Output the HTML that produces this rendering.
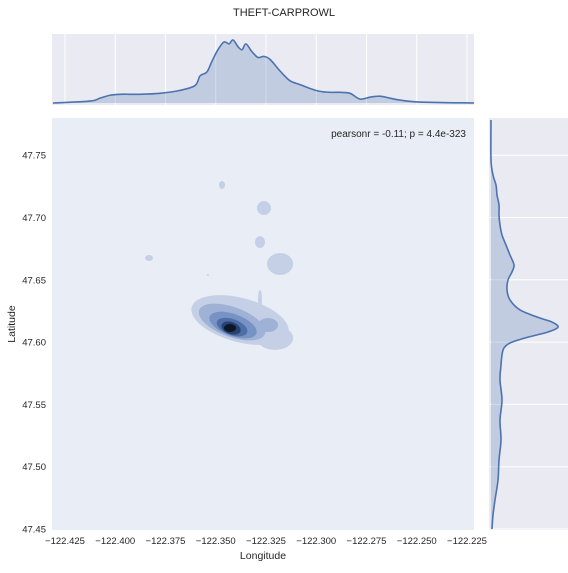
<!DOCTYPE html>
<html><head><meta charset="utf-8"><style>
body{margin:0;background:#fff;font-family:"Liberation Sans",sans-serif;}
svg text{font-family:"Liberation Sans",sans-serif;fill:#262626;}
</style></head><body>
<svg id="c" width="568" height="568" xmlns="http://www.w3.org/2000/svg">
<text x="284" y="16" text-anchor="middle" font-size="11">THEFT-CARPROWL</text>
<rect x="52" y="34" width="422" height="71" fill="#eaeaf2"/>
<rect x="489" y="118" width="79" height="412" fill="#eaeaf2"/>
<rect x="52" y="118" width="422" height="412" fill="#e9edf5"/>
<g id="grid"></g><g id="marks"></g><g id="axes"></g>
<text x="466" y="137" text-anchor="end" font-size="10">pearsonr = -0.11; p = 4.4e-323</text>
<text x="263" y="559" text-anchor="middle" font-size="10.5">Longitude</text>
<text x="15" y="324" text-anchor="middle" font-size="10.5" transform="rotate(-90 15 324)">Latitude</text>
</svg>
<script>
const xTicks=[-122.425,-122.400,-122.375,-122.350,-122.325,-122.300,-122.275,-122.250,-122.225];
const yTicks=[47.45,47.50,47.55,47.60,47.65,47.70,47.75];
const lonPts=[-122.431,-122.4126,-122.4076,-122.4026,-122.3976,-122.3877,-122.3777,-122.3678,-122.3603,-122.3578,-122.3544,-122.3519,-122.3489,-122.3459,-122.3434,-122.3414,-122.3389,-122.3369,-122.335,-122.332,-122.329,-122.326,-122.323,-122.318,-122.3131,-122.3081,-122.3031,-122.2981,-122.2932,-122.2882,-122.2832,-122.2782,-122.2733,-122.2683,-122.2633,-122.2583,-122.2484,-122.2215];
const lonDens=[0,2,5,8,9,9,10,13,18,28,32,43,55,63,61,65,58,55,61,53,47,48,45,33,23,19,15,12,11,11,10,4,6,7,5,3,1,0];
const latPts=[47.7783,47.7462,47.7341,47.7261,47.7181,47.71,47.702,47.694,47.686,47.6779,47.6699,47.6619,47.6563,47.6498,47.6418,47.6338,47.6258,47.6193,47.6161,47.6121,47.6081,47.6033,47.5993,47.5953,47.5897,47.5816,47.5696,47.5535,47.5375,47.5214,47.5054,47.4893,47.4733,47.4612,47.45];
const latDens=[0,0,2,5,6,8,8,9,11,15,19,23,21,17,16,19,29,49,61,67,57,34,19,13,11,10,9,11,9,10,8,7,4,2,1];
// contour blobs: [lon, lat, rxLon, ryLat, rotation, level]
const blobLon=[-122.3379,-122.3205,-122.328,-122.326,-122.318,-122.328,-122.3469,-122.3832,-122.3539,-122.3419,-122.324,-122.3414,-122.3419,-122.3424,-122.3429];
const blobLat=[47.6177,47.6033,47.6338,47.7076,47.6627,47.6803,47.7261,47.6675,47.6539,47.6161,47.6137,47.6137,47.6121,47.6113,47.6113];
const blobRx=[0.0249,0.009,0.001,0.0035,0.0065,0.0025,0.0015,0.002,0.0005,0.0174,0.005,0.0124,0.008,0.005,0.003];
const blobRy=[0.0177,0.0096,0.008,0.0056,0.0088,0.0048,0.0032,0.0024,0.0008,0.012,0.0056,0.0088,0.0064,0.0048,0.0032];
const blobRot=[15,0,0,0,0,0,0,0,0,20,0,20,20,20,0];
const blobLevel=[0,0,0,0,0,0,0,0,0,1,1,2,3,4,5];
const levelColors=['#c5d0e6','#9fb2d6','#7793c5','#4f6ea8','#2a4270','#0e1728'];
const X0=52,X1=474,Y0=118,Y1=530;
const xs=v=>65+(v+122.425)/0.025*50.25;
const ys=v=>529-(v-47.45)/0.05*62.3;
const NS='http://www.w3.org/2000/svg';
function mk(p,t,a){const e=document.createElementNS(NS,t);for(const k in a)e.setAttribute(k,a[k]);p.appendChild(e);return e;}
function smooth(p){let s='M'+p[0][0]+','+p[0][1];for(let i=0;i<p.length-1;i++){const a=p[i-1]||p[i],b=p[i],c=p[i+1],e=p[i+2]||c;
 s+=` C${b[0]+(c[0]-a[0])/6},${b[1]+(c[1]-a[1])/6} ${c[0]-(e[0]-b[0])/6},${c[1]-(e[1]-b[1])/6} ${c[0]},${c[1]}`;}return s;}
const grid=document.getElementById('grid'),marks=document.getElementById('marks'),axes=document.getElementById('axes');
xTicks.forEach(t=>{const x=xs(t);
 const l=mk(grid,'line',{x1:x,x2:x,y1:34,y2:105,stroke:'#fff','stroke-width':1});
 
 
 const tx=mk(axes,'text',{x:x,y:544,'text-anchor':'middle','font-size':9.5});tx.textContent=(t<0?'\u2212':'')+Math.abs(t).toFixed(3);
 
 
});
yTicks.forEach(t=>{const y=ys(t);
 const l=mk(grid,'line',{x1:489,x2:568,y1:y,y2:y,stroke:'#fff','stroke-width':1});
 
 
 const tx=mk(axes,'text',{x:46,y:y+3.5,'text-anchor':'end','font-size':9.5});tx.textContent=t.toFixed(2);
 
 
});
for(let lv=0;lv<levelColors.length;lv++){
 blobLon.forEach((lo,i)=>{if(blobLevel[i]!==lv)return;
  const cx=xs(lo),cy=ys(blobLat[i]),rx=blobRx[i]/0.025*50.25,ry=blobRy[i]/0.05*62.3;
  const e=mk(marks,'ellipse',{cx:cx,cy:cy,rx:rx,ry:ry,fill:levelColors[lv],transform:`rotate(${blobRot[i]} ${cx} ${cy})`});
  
  
 });
}
const tScale=63/65;
let pts=lonPts.map((v,i)=>[Math.max(X0,Math.min(X1,xs(v))),103-lonDens[i]*tScale]);
let d=smooth(pts);
const ta=mk(marks,'path',{d:d+` L${X1},103 L${X0},103 Z`,fill:'rgba(76,114,176,0.25)'});


const tl=mk(marks,'path',{d:d,fill:'none',stroke:'#4c72b0','stroke-width':1.6});


pts=latPts.map((v,i)=>[491+latDens[i],Math.max(Y0,Math.min(Y1,ys(v)))]);
d=smooth(pts);
const ra=mk(marks,'path',{d:d+` L491,${Y1} L491,${Y0} Z`,fill:'rgba(76,114,176,0.25)'});


const rl=mk(marks,'path',{d:d,fill:'none',stroke:'#4c72b0','stroke-width':1.6});


</script>
</body></html>
